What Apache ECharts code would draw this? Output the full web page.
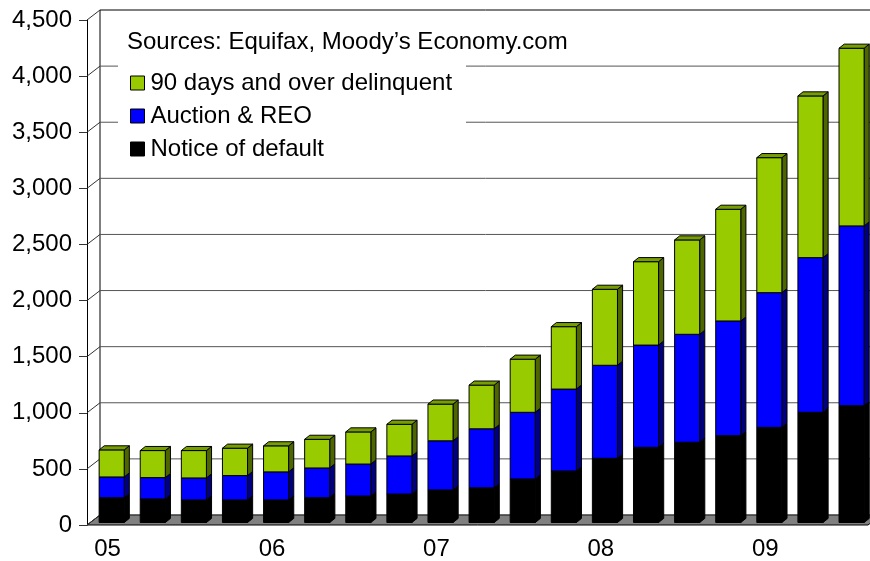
<!DOCTYPE html>
<html>
<head>
<meta charset="utf-8">
<script src="https://cdn.jsdelivr.net/npm/echarts@6/dist/echarts.min.js"></script>
<style>
  html, body { margin: 0; padding: 0; background: #fff; }
  #chart { width: 870px; height: 561px; }
</style>
</head>
<body>
<div id="chart"></div>
<script>
// Quarterly mortgage distress counts, thousands
const quarters = [
  '05Q1', '05Q2', '05Q3', '05Q4',
  '06Q1', '06Q2', '06Q3', '06Q4',
  '07Q1', '07Q2', '07Q3', '07Q4',
  '08Q1', '08Q2', '08Q3', '08Q4',
  '09Q1', '09Q2', '09Q3'
];
const yearLabels = ['05', '06', '07', '08', '09'];

const noticeOfDefault = [221, 210, 201, 201, 201, 221, 236, 254, 290, 309, 388, 459, 572, 670, 715, 774, 848, 982, 1041];
const auctionREO      = [185, 190, 196, 217, 250, 265, 285, 339, 438, 526, 594, 730, 829, 911, 962, 1022, 1200, 1378, 1602];
const delinquent90    = [241, 241, 244, 244, 232, 255, 286, 282, 327, 389, 473, 556, 677, 743, 841, 995, 1203, 1441, 1583];

const yTicks = [0, 500, 1000, 1500, 2000, 2500, 3000, 3500, 4000, 4500];

const names = ['Notice of default', 'Auction & REO', '90 days and over delinquent'];
const layers = [noticeOfDefault, auctionREO, delinquent90];
const faceColors = ['#000000', '#0000FF', '#99CC00'];
const sideColors = ['#000000', '#000080', '#4D6600'];
const topColors  = ['#000000', '#0000A0', '#779E00'];

// depth of the 3-D box (back wall offset) in pixels
const WALL_DX = 13, WALL_DY = -10;

// stacked [index, base, top] rows for each layer
const stacked = layers.map((arr, li) => arr.map((v, i) => {
  let base = 0;
  for (let k = 0; k < li; k++) base += layers[k][i];
  return [i, base, base + v];
}));

function barRenderer(li) {
  const isTopLayer = li === layers.length - 1;
  return function (params, api) {
    const i = api.value(0);
    const pBase = api.coord([i, api.value(1)]);
    const pTop = api.coord([i, api.value(2)]);
    const band = api.size([1, 0])[0];
    const w = band * 0.61;
    const dx = band * 0.125;
    const dy = -dx * 0.8;
    const x0 = pBase[0] + band * 0.1 - w / 2;
    const x1 = x0 + w;
    const yb = pBase[1] - 2.5;
    const yt = pTop[1] - 2.5;
    const children = [
      {
        type: 'polygon',
        shape: { points: [[x1, yt], [x1 + dx, yt + dy], [x1 + dx, yb + dy], [x1, yb]] },
        style: { fill: sideColors[li], stroke: '#000', lineWidth: 1 }
      },
      {
        type: 'rect',
        shape: { x: x0, y: yt, width: w, height: yb - yt },
        style: { fill: faceColors[li], stroke: '#000', lineWidth: 1 }
      }
    ];
    if (isTopLayer) {
      children.push({
        type: 'polygon',
        shape: { points: [[x0, yt], [x1, yt], [x1 + dx, yt + dy], [x0 + dx, yt + dy]] },
        style: { fill: topColors[li], stroke: '#000', lineWidth: 1 }
      });
    }
    return { type: 'group', children: children };
  };
}

// back-wall gridlines and the diagonal links from the front axis ticks
function wallRenderer(params, api) {
  const cs = params.coordSys;
  const p = api.coord([0, api.value(1)]);
  const y = p[1];
  const xl = cs.x;
  const xr = cs.x + cs.width;
  const isTop = api.value(1) === yTicks[yTicks.length - 1];
  return {
    type: 'group',
    children: [
      {
        type: 'line',
        shape: { x1: xl, y1: y, x2: xl + WALL_DX, y2: y + WALL_DY },
        style: { stroke: '#333', lineWidth: 1 }
      },
      {
        type: 'line',
        shape: { x1: xl + WALL_DX, y1: y + WALL_DY, x2: xr + WALL_DX, y2: y + WALL_DY },
        style: { stroke: isTop ? '#000' : '#555', lineWidth: 1 }
      }
    ]
  };
}

// floor and left edge of the back wall
function floorRenderer(params, api) {
  const cs = params.coordSys;
  const y0 = api.coord([0, 0])[1];
  const yMax = api.coord([0, yTicks[yTicks.length - 1]])[1];
  const xl = cs.x, xr = cs.x + cs.width;
  return {
    type: 'group',
    children: [
      {
        type: 'polygon',
        shape: { points: [[xl, y0], [xr, y0], [xr + WALL_DX, y0 + WALL_DY], [xl + WALL_DX, y0 + WALL_DY]] },
        style: { fill: '#808080', stroke: '#000', lineWidth: 1 }
      },
      {
        type: 'line',
        shape: { x1: xl + WALL_DX, y1: y0 + WALL_DY, x2: xl + WALL_DX, y2: yMax + WALL_DY },
        style: { stroke: '#000', lineWidth: 1 }
      }
    ]
  };
}

const chart = echarts.init(document.getElementById('chart'), null, { renderer: 'canvas' });

const FONT = 'Arial, "Liberation Sans", sans-serif';

const series = [
  {
    name: 'floor',
    type: 'custom',
    silent: true,
    z: 1,
    renderItem: floorRenderer,
    data: [[0, 0]]
  },
  {
    name: 'wall',
    type: 'custom',
    silent: true,
    z: 1,
    renderItem: wallRenderer,
    data: yTicks.map(v => [0, v])
  }
];
layers.forEach((arr, li) => {
  series.push({
    name: names[li],
    type: 'custom',
    silent: true,
    z: 5,
    renderItem: barRenderer(li),
    itemStyle: { color: faceColors[li], borderColor: '#000', borderWidth: 1 },
    encode: { x: 0, y: [1, 2] },
    data: stacked[li]
  });
});

chart.setOption({
  animation: false,
  backgroundColor: '#fff',
  grid: { left: 87, right: 2, top: 20, bottom: 36 },
  xAxis: {
    type: 'category',
    data: quarters,
    boundaryGap: true,
    axisLine: { show: false },
    axisTick: { show: false },
    axisLabel: {
      interval: 0,
      margin: 12,
      color: '#000',
      fontSize: 24,
      fontFamily: FONT,
      formatter: (v, idx) => (idx % 4 === 0 ? yearLabels[idx / 4] : '')
    },
    splitLine: { show: false }
  },
  yAxis: {
    type: 'value',
    min: 0,
    max: 4500,
    interval: 500,
    axisLine: { show: true, lineStyle: { color: '#000', width: 1 } },
    axisTick: { show: true, inside: false, length: 8, lineStyle: { color: '#333' } },
    axisLabel: {
      margin: 15,
      color: '#000',
      fontSize: 24,
      fontFamily: FONT,
      padding: [4, 0, 0, 0],
      formatter: v => v.toLocaleString('en-US')
    },
    splitLine: { show: false }
  },
  legend: {
    data: ['90 days and over delinquent', 'Auction & REO', 'Notice of default'],
    orient: 'vertical',
    left: 125,
    top: 65,
    padding: 5,
    icon: 'rect',
    itemWidth: 14,
    itemHeight: 14,
    itemGap: 7,
    selectedMode: false,
    itemStyle: { borderColor: '#000', borderWidth: 1 },
    textStyle: { color: '#000', fontSize: 24, lineHeight: 26, fontFamily: FONT, padding: [0, 0, 0, 1] },
    z: 10
  },
  graphic: [
    {
      type: 'rect',
      z: 8,
      shape: { x: 118, y: 15, width: 348, height: 157 },
      style: { fill: '#fff' }
    },
    {
      type: 'text',
      z: 9,
      x: 127,
      y: 42,
      style: {
        text: 'Sources: Equifax, Moody\u2019s Economy.com',
        fill: '#000',
        font: '24px ' + FONT,
        verticalAlign: 'middle'
      }
    }
  ],
  series: series
});
</script>
</body>
</html>
